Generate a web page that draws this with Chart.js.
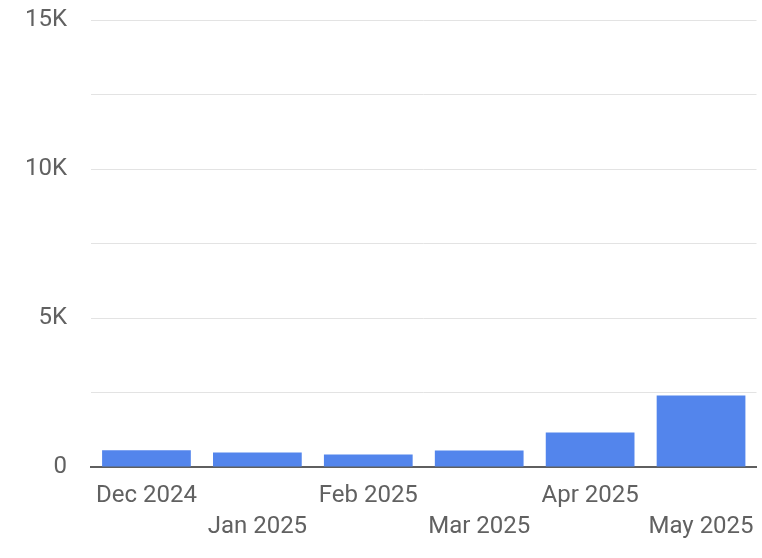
<!DOCTYPE html>
<html>
<head>
<meta charset="utf-8">
<script src="https://cdn.jsdelivr.net/npm/chart.js@4/dist/chart.umd.min.js"></script>
<style>
html,body{margin:0;padding:0;background:#fff;}
#wrap{width:762px;height:558px;}
</style>
</head>
<body>
<div id="wrap"><canvas id="c" width="762" height="558"></canvas></div>
<script>
const categories = ['Dec 2024','Jan 2025','Feb 2025','Mar 2025','Apr 2025','May 2025'];
const values = [560, 490, 420, 550, 1160, 2400];
const yTickLabels = {0:'0', 5000:'5K', 10000:'10K', 15000:'15K'};

const textColor = '#616161';
new Chart(document.getElementById('c'), {
  type: 'bar',
  data: {
    labels: categories,
    datasets: [{
      data: values,
      backgroundColor: '#5385EC',
      borderWidth: 0,
      categoryPercentage: 1.0,
      barPercentage: 0.8
    }]
  },
  options: {
    responsive: false,
    animation: false,
    devicePixelRatio: 1,
    layout: { padding: { top: 0, right: 5.5, left: 0, bottom: 0 } },
    plugins: { legend: { display: false }, tooltip: { enabled: false } },
    scales: {
      x: {
        grid: { display: false, drawTicks: false },
        border: { display: true, color: '#5f5f5f', width: 2 },
        ticks: {
          color: textColor,
          font: { family: 'Roboto', size: 24, lineHeight: 1.29 },
          maxRotation: 0, minRotation: 0, autoSkip: false,
          padding: 14,
          callback: function(v, i) { return i % 2 ? ['', categories[i]] : categories[i]; }
        },
        afterFit: function(s) { s.height = 91; s.paddingLeft = 0; s.paddingRight = 0; }
      },
      y: {
        min: 0, max: 15000,
        grid: { color: '#e3e3e3', lineWidth: 1, drawTicks: true, tickLength: 18, tickColor: 'rgba(0,0,0,0)' },
        border: { display: false },
        ticks: {
          stepSize: 2500,
          color: textColor,
          font: { family: 'Roboto', size: 24 },
          padding: 6,
          callback: function(v) { return yTickLabels[v] !== undefined ? yTickLabels[v] : ''; }
        },
        afterFit: function(s) { s.width = 91; }
      }
    }
  }
});
</script>
</body>
</html>
